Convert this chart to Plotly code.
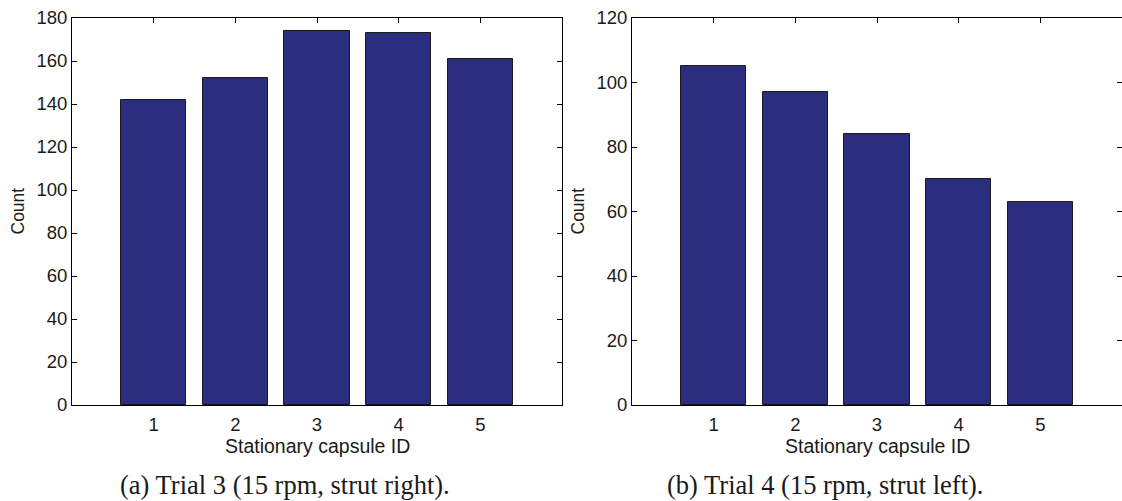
import plotly.graph_objects as go

# Counts per stationary capsule for two trials
capsule_ids = [1, 2, 3, 4, 5]
trial3_counts = [142, 152, 174, 173, 161]
trial4_counts = [105, 97, 84, 70, 63]
tick_ids = [1, 2, 3, 4, 5]

W, H = 1122, 501
BAR_FILL = "#2b2e7e"
BAR_EDGE = "#1a1a1a"
SANS = "Liberation Sans, Arial, sans-serif"
SERIF = "Liberation Serif, Times New Roman, serif"
TXT = "#1a1a1a"

# panel geometry in pixels
ax_a = (72, 562)
ax_b = (632, 1122)
top_px, bot_px = 18, 405


def fx(px):
    return px / W


def fy(py):
    return 1 - py / H


fig = go.Figure()
fig.add_trace(go.Bar(x=capsule_ids, y=trial3_counts, width=0.8,
                     marker=dict(color=BAR_FILL, line=dict(color=BAR_EDGE, width=1)),
                     xaxis="x", yaxis="y", showlegend=False))
fig.add_trace(go.Bar(x=capsule_ids, y=trial4_counts, width=0.8,
                     marker=dict(color=BAR_FILL, line=dict(color=BAR_EDGE, width=1)),
                     xaxis="x2", yaxis="y2", showlegend=False))
# empty trace so the right-hand tick-only axis of panel (b) is rendered
fig.add_trace(go.Scatter(x=[], y=[], xaxis="x2", yaxis="y3", showlegend=False))

common = dict(showline=True, linecolor="black", linewidth=1, ticks="inside",
              ticklen=5, tickcolor="black", showgrid=False, zeroline=False,
              automargin=False,
              tickfont=dict(family=SANS, size=18.5, color=TXT))

fig.update_layout(
    width=W, height=H, margin=dict(l=0, r=0, t=0, b=0, autoexpand=False),
    paper_bgcolor="white", plot_bgcolor="white",
    xaxis=dict(domain=[fx(ax_a[0]), fx(ax_a[1])], range=[0, 6], tickvals=tick_ids,
               mirror="ticks", anchor="y", layer="below traces",
               ticklabelstandoff=3, **common),
    yaxis=dict(domain=[fy(bot_px), fy(top_px)], range=[0, 180], dtick=20,
               mirror="ticks", anchor="x", **common),
    xaxis2=dict(domain=[fx(ax_b[0]), fx(ax_b[1])], range=[0, 6], tickvals=tick_ids,
                mirror="ticks", anchor="y2", layer="below traces",
                ticklabelstandoff=3, **common),
    yaxis2=dict(domain=[fy(bot_px), fy(top_px)], range=[0, 120], dtick=20,
                mirror=False, anchor="x2", **common),
    yaxis3=dict(range=[0, 120], dtick=20, overlaying="y2", anchor="x2", side="right",
                showline=False, ticks="inside", ticklen=5, tickcolor="black",
                showticklabels=False, showgrid=False, zeroline=False, automargin=False),
    bargap=0,
)

annotations = []
for (x0, x1), ylab_x, cap_x, caption in [
    (ax_a, 18, 285, "(a) Trial 3 (15 rpm, strut right)."),
    (ax_b, 578, 825, "(b) Trial 4 (15 rpm, strut left)."),
]:
    cx = fx((x0 + x1) / 2)
    annotations.append(dict(x=cx, y=fy(446), xref="paper", yref="paper",
                            text="Stationary capsule ID", showarrow=False,
                            xanchor="center", yanchor="middle",
                            font=dict(family=SANS, size=19.5, color=TXT)))
    annotations.append(dict(x=fx(ylab_x), y=fy((top_px + bot_px) / 2), xref="paper", yref="paper",
                            text="Count", showarrow=False, textangle=-90,
                            xanchor="center", yanchor="middle",
                            font=dict(family=SANS, size=17.5, color=TXT)))
    annotations.append(dict(x=fx(cap_x), y=fy(485), xref="paper", yref="paper",
                            text=caption, showarrow=False,
                            xanchor="center", yanchor="middle",
                            font=dict(family=SERIF, size=26.5, color=TXT)))
fig.update_layout(annotations=annotations)

fig.write_html("out.html")
